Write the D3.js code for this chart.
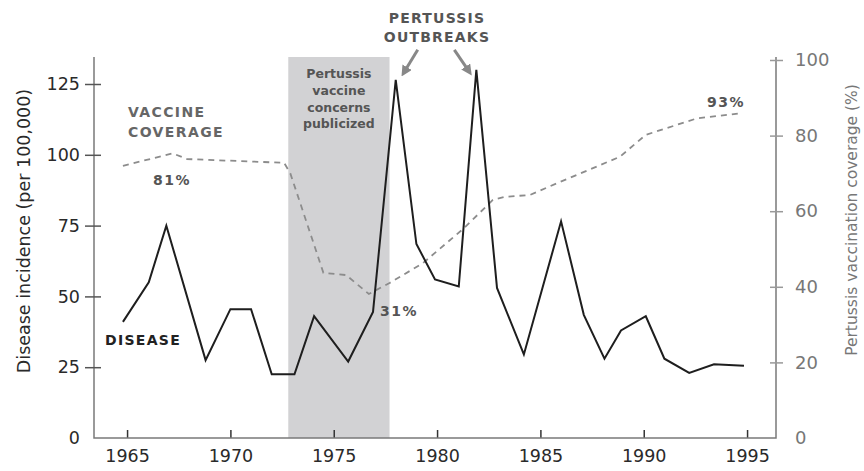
<!DOCTYPE html>
<html>
<head>
<meta charset="utf-8">
<script src="https://cdn.jsdelivr.net/npm/d3@7/dist/d3.min.js"></script>
<style>
  body { margin: 0; background: #fff; }
  svg { display: block; }
  svg text { font-family: "DejaVu Sans", Verdana, sans-serif; }
</style>
</head>
<body>
<div id="chart"></div>
<script>
// Disease incidence (per 100,000)
const diseaseYears = [1964.8, 1966.05, 1966.9, 1968.8, 1970.0, 1971.0, 1972.0, 1973.1, 1974.05, 1975.7,
    1976.9, 1978.0, 1979.0, 1979.9, 1981.05, 1981.9, 1982.9, 1984.2, 1986.0, 1987.1,
    1988.1, 1988.9, 1990.1, 1991.0, 1992.2, 1993.4, 1994.85];
const diseaseValues = [41, 55, 75, 27.5, 45.5, 45.5, 22.5, 22.5, 43, 27,
    44.5, 126.5, 68.5, 56, 53.5, 130, 53, 29.5, 76.5, 43.5,
    28, 38, 43, 28, 23, 26, 25.5];

// Pertussis vaccination coverage (%)
const coverageYears = [1964.8, 1967.2, 1967.9, 1972.6, 1972.9, 1974.5, 1975.6, 1976.7, 1977.7,
    1979.3, 1981.3, 1982.7, 1983.3, 1984.5, 1985.8, 1988.85, 1990.1, 1992.6, 1994.7];
const coverageValues = [72, 75.3, 73.8, 72.8, 70, 43.7, 43.1, 38.1, 41,
    46.2, 55.5, 63, 63.8, 64.3, 67.4, 74.4, 80.2, 84.6, 85.9];

const xTicks = [1965, 1970, 1975, 1980, 1985, 1990, 1995];
const leftTicks = [0, 25, 50, 75, 100, 125];
const rightTicks = [0, 20, 40, 60, 80, 100];
const concernsPeriod = [1972.8, 1977.7];
const outbreakYears = [1978.0, 1981.9];

const width = 864;
const height = 471;

const x = d3.scaleLinear().domain([1963.4, 1996.4]).range([94, 776]);
const yL = d3.scaleLinear().domain([0, 125]).range([438, 84]);
const yR = d3.scaleLinear().domain([0, 100]).range([438, 60]);
const axisTop = 57;

const svg = d3.select('#chart').append('svg')
    .attr('width', width)
    .attr('height', height);

// Shaded period
svg.append('rect')
    .attr('x', x(concernsPeriod[0]))
    .attr('y', axisTop)
    .attr('width', x(concernsPeriod[1]) - x(concernsPeriod[0]))
    .attr('height', yL(0) - axisTop)
    .style('fill', '#d2d2d4');

// Axes
const xAxis = svg.append('g')
    .attr('transform', `translate(0, ${yL(0)})`)
    .call(d3.axisBottom(x).tickValues(xTicks).tickSize(-8).tickFormat(d3.format('d')));
xAxis.select('.domain').remove();
xAxis.selectAll('line').style('stroke', '#333').style('stroke-width', 1.5);
xAxis.selectAll('text')
    .attr('y', 12)
    .style('font-size', '17.5px')
    .style('fill', '#2a2a2a');

svg.append('path')
    .attr('d', `M${x.range()[0]},${axisTop}V${yL(0)}H${x.range()[1]}V${axisTop}`)
    .style('fill', 'none')
    .style('stroke', '#7a7a7a')
    .style('stroke-width', 1.5);

const leftAxis = svg.append('g')
    .attr('transform', `translate(${x.range()[0]}, 0)`)
    .call(d3.axisLeft(yL).tickValues(leftTicks).tickSize(9));
leftAxis.select('.domain').remove();
leftAxis.selectAll('line').attr('x1', 7).style('stroke', '#555').style('stroke-width', 1.5);
leftAxis.selectAll('.tick').filter(d => d === 0).select('line').remove();
leftAxis.selectAll('text')
    .attr('x', -14)
    .style('font-size', '17.5px')
    .style('fill', '#2a2a2a');

const rightAxis = svg.append('g')
    .attr('transform', `translate(${x.range()[1]}, 0)`)
    .call(d3.axisRight(yR).tickValues(rightTicks).tickSize(7));
rightAxis.select('.domain').remove();
rightAxis.selectAll('line').attr('x1', -6).style('stroke', '#999').style('stroke-width', 1.5);
rightAxis.selectAll('.tick').filter(d => d === 0).select('line').remove();
rightAxis.selectAll('text')
    .attr('x', 19)
    .style('font-size', '18px')
    .style('fill', '#777');

// Axis titles
svg.append('text')
    .attr('transform', `translate(24, ${(axisTop + 405) / 2}) rotate(-90)`)
    .attr('text-anchor', 'middle')
    .attr('dy', '0.35em')
    .style('font-size', '17.5px')
    .style('fill', '#2a2a2a')
    .text('Disease incidence (per 100,000)');

svg.append('text')
    .attr('transform', `translate(852, 220) rotate(-90)`)
    .attr('text-anchor', 'middle')
    .attr('dy', '0.35em')
    .style('font-size', '15.5px')
    .style('fill', '#777')
    .text('Pertussis vaccination coverage (%)');

// Coverage line
const coverage = coverageYears.map((yr, i) => ({yr, v: coverageValues[i]}));
svg.append('path')
    .datum(coverage)
    .attr('d', d3.line().x(d => x(d.yr)).y(d => yR(d.v)))
    .style('fill', 'none')
    .style('stroke', '#8c8c8c')
    .style('stroke-width', 1.8)
    .style('stroke-dasharray', '6,5');

// Disease line
const disease = diseaseYears.map((yr, i) => ({yr, v: diseaseValues[i]}));
svg.append('path')
    .datum(disease)
    .attr('d', d3.line().x(d => x(d.yr)).y(d => yL(d.v)))
    .style('fill', 'none')
    .style('stroke', '#1e1e1e')
    .style('stroke-width', 2)
    .style('stroke-linejoin', 'miter');

// Arrows to outbreak peaks
svg.append('defs').append('marker')
    .attr('id', 'arrow')
    .attr('viewBox', '0 0 10 10')
    .attr('refX', 6)
    .attr('refY', 5)
    .attr('markerWidth', 3.6)
    .attr('markerHeight', 3.6)
    .attr('orient', 'auto')
    .append('path')
    .attr('d', 'M0,0L10,5L0,10Z')
    .style('fill', '#888');

const peaks = outbreakYears.map(yr => disease.find(d => d.yr === yr));
const arrowOffsets = [[22, -30, 8, -7], [-22, -20, -7, 2]];
peaks.forEach((p, i) => {
    const [sx, sy, ex, ey] = arrowOffsets[i];
    const px = x(p.yr), py = yL(p.v);
    svg.append('line')
        .attr('x1', px + sx).attr('y1', py + sy)
        .attr('x2', px + ex).attr('y2', py + ey)
        .style('stroke', '#888')
        .style('stroke-width', 3)
        .attr('marker-end', 'url(#arrow)');
});

// Annotations
function label(lines, cx, y0, opts) {
    const t = svg.append('text')
        .attr('text-anchor', opts.anchor || 'middle')
        .style('font-size', opts.size + 'px')
        .style('font-weight', 'bold')
        .style('letter-spacing', (opts.ls || 0) + 'px')
        .style('fill', opts.color);
    lines.forEach((s, i) => {
        t.append('tspan').attr('x', cx).attr('y', y0 + i * opts.lh).text(s);
    });
}

label(['PERTUSSIS', 'OUTBREAKS'], 437, 23, {size: 14, ls: 1.2, lh: 19, color: '#555'});
label(['Pertussis', 'vaccine', 'concerns', 'publicized'], (x(concernsPeriod[0]) + x(concernsPeriod[1])) / 2, 78,
    {size: 12.5, lh: 16.8, color: '#555'});
label(['VACCINE', 'COVERAGE'], 128, 117, {size: 14, ls: 1.4, lh: 19.5, color: '#666', anchor: 'start'});
label(['DISEASE'], 105, 345, {size: 14, ls: 1.3, lh: 0, color: '#222', anchor: 'start'});
label(['81%'], 153, 185, {size: 14, ls: 1.5, lh: 0, color: '#555', anchor: 'start'});
label(['31%'], 380, 316, {size: 14, ls: 1.5, lh: 0, color: '#555', anchor: 'start'});
label(['93%'], 707, 107, {size: 14, ls: 1.5, lh: 0, color: '#555', anchor: 'start'});
</script>
</body>
</html>
